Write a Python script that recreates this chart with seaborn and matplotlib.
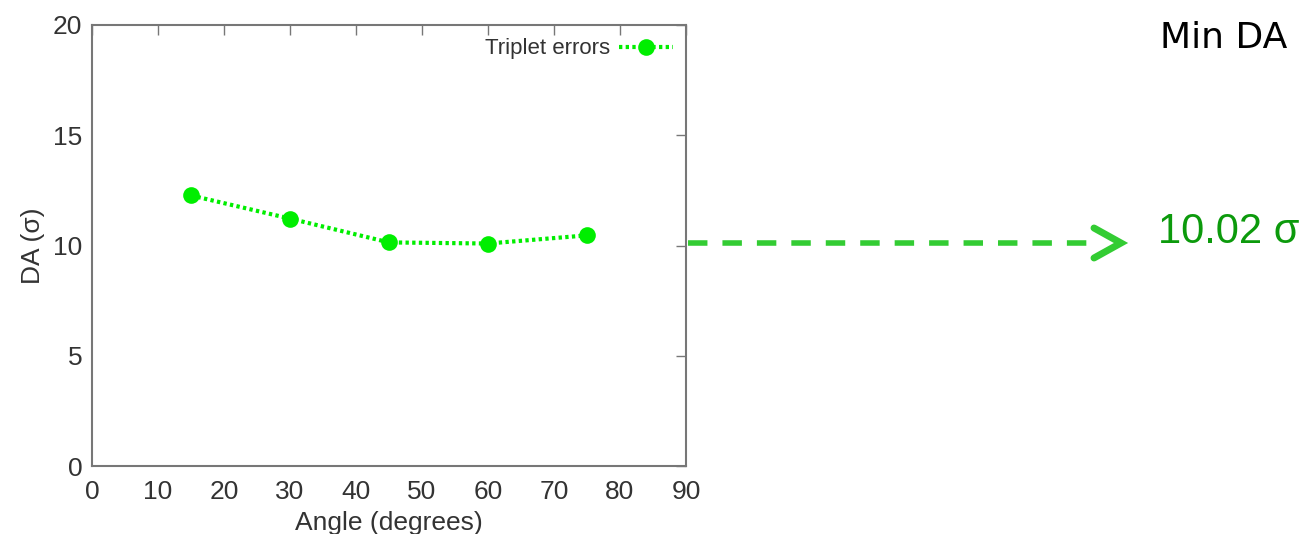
import numpy as np
import pandas as pd
import matplotlib.pyplot as plt
import seaborn as sns

angles = [15, 30, 45, 60, 75]
da_values = [12.27, 11.22, 10.14, 10.09, 10.46]
series_name = "Triplet errors"
min_da = 10.02
xticks = list(range(0, 91, 10))
yticks = [0, 5, 10, 15, 20]

df = pd.DataFrame({"angle": angles, "da": da_values, "series": series_name})

sns.set_style("white")
plt.rcParams['font.family'] = ['Liberation Sans', 'DejaVu Sans']

fig = plt.figure(figsize=(13.07, 5.34), dpi=100)
ax = fig.add_axes([92 / 1307, 1 - 466 / 534, (686 - 92) / 1307, (466 - 25) / 534])

sns.lineplot(data=df, x="angle", y="da", hue="series", palette=["#00ee00"],
             marker="o", markersize=12, markeredgewidth=0, linestyle=(0, (0.8, 0.8)),
             linewidth=3, ax=ax)

ax.set_xlim(0, 90)
ax.set_ylim(0, 20)
ax.set_xticks(xticks)
ax.set_yticks(yticks)
ax.tick_params(direction="in", length=7, width=1, color="#777777",
               top=True, right=True, labelsize=19, labelcolor="#333333", pad=7)
ax.tick_params(axis="x", pad=10)
for s in ax.spines.values():
    s.set_color("#777777")
    s.set_linewidth(1.5)
ax.set_xlabel("Angle (degrees)", fontsize=19, color="#333333", labelpad=5)
ax.set_ylabel("DA (σ)", fontsize=19, color="#333333", labelpad=6)

leg = ax.legend(loc="upper right", markerfirst=False, frameon=False,
                fontsize=16, handlelength=2.4, handletextpad=0.4,
                borderaxespad=0.2)
for t in leg.get_texts():
    t.set_color("#333333")

# dashed arrow pointing to the minimum value
fig.add_artist(plt.Line2D([688 / 1307, 1100 / 1307], [1 - 243 / 534] * 2,
                          transform=fig.transFigure, color="#33cc33",
                          linewidth=4, linestyle=(0, (3.5, 2.7))))
fig.add_artist(plt.Line2D([1094 / 1307, 1121 / 1307, 1094 / 1307],
                          [1 - 228 / 534, 1 - 243 / 534, 1 - 258 / 534],
                          transform=fig.transFigure, color="#33cc33",
                          linewidth=5, solid_capstyle="round",
                          solid_joinstyle="miter"))
fig.text(1158 / 1307, 1 - 232 / 534, f"{min_da:.2f} σ", fontsize=30,
         color="#0c9a0c", va="center", ha="left")
fig.text(1160 / 1307, 1 - 38 / 534, "Min DA", fontsize=26,
         color="black", va="center", ha="left", family=["DejaVu Sans"])

fig.savefig("out.png", dpi=100)
